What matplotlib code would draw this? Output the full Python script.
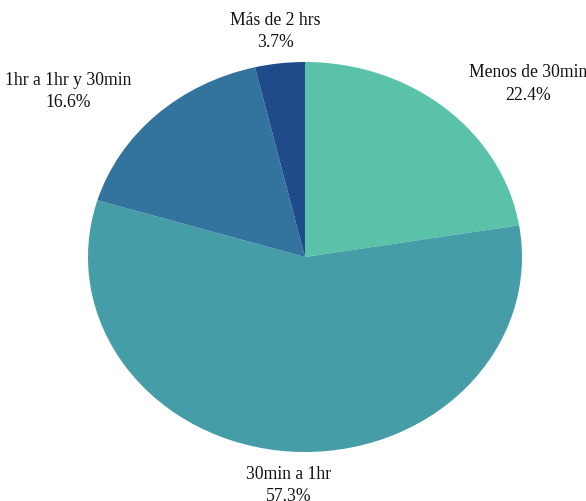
import matplotlib.pyplot as plt
import numpy as np

labels = ["Menos de 30min", "30min a 1hr", "1hr a 1hr y 30min", "Más de 2 hrs"]
values = [22.4, 57.3, 16.6, 3.7]
colors = ["#5bc2aa", "#459da7", "#33749f", "#1f4b8a"]

plt.rcParams['font.family'] = ['Liberation Serif', 'DejaVu Serif']

fig = plt.figure(figsize=(5.86, 5.02), dpi=100)
# axes box sized so the pie fills it (slightly wider than tall)
ax = fig.add_axes([88 / 586, 49 / 502, 434 / 586, 390 / 502])

wedges, _ = ax.pie(values, colors=colors, startangle=90, counterclock=False,
                   wedgeprops={'linewidth': 0})
ax.set_aspect('auto')
ax.set_xlim(-1, 1)
ax.set_ylim(-1, 1)
ax.axis('off')

# labels outside each wedge with the percentage underneath
for w, lab, val in zip(wedges, labels, values):
    ang = np.deg2rad((w.theta1 + w.theta2) / 2)
    x = 1.17 * np.cos(ang)
    y = 1.17 * np.sin(ang)
    if abs(np.cos(ang)) < 0.3:
        ha = 'center'
    elif x > 0:
        ha = 'left'
    else:
        ha = 'right'
    ax.text(x, y, f"{lab}\n{val:.1f}%", ha=ha, va='center', fontsize=12.7,
            multialignment='center', linespacing=1.4, color='#111111')

fig.savefig("out.png", dpi=100)
